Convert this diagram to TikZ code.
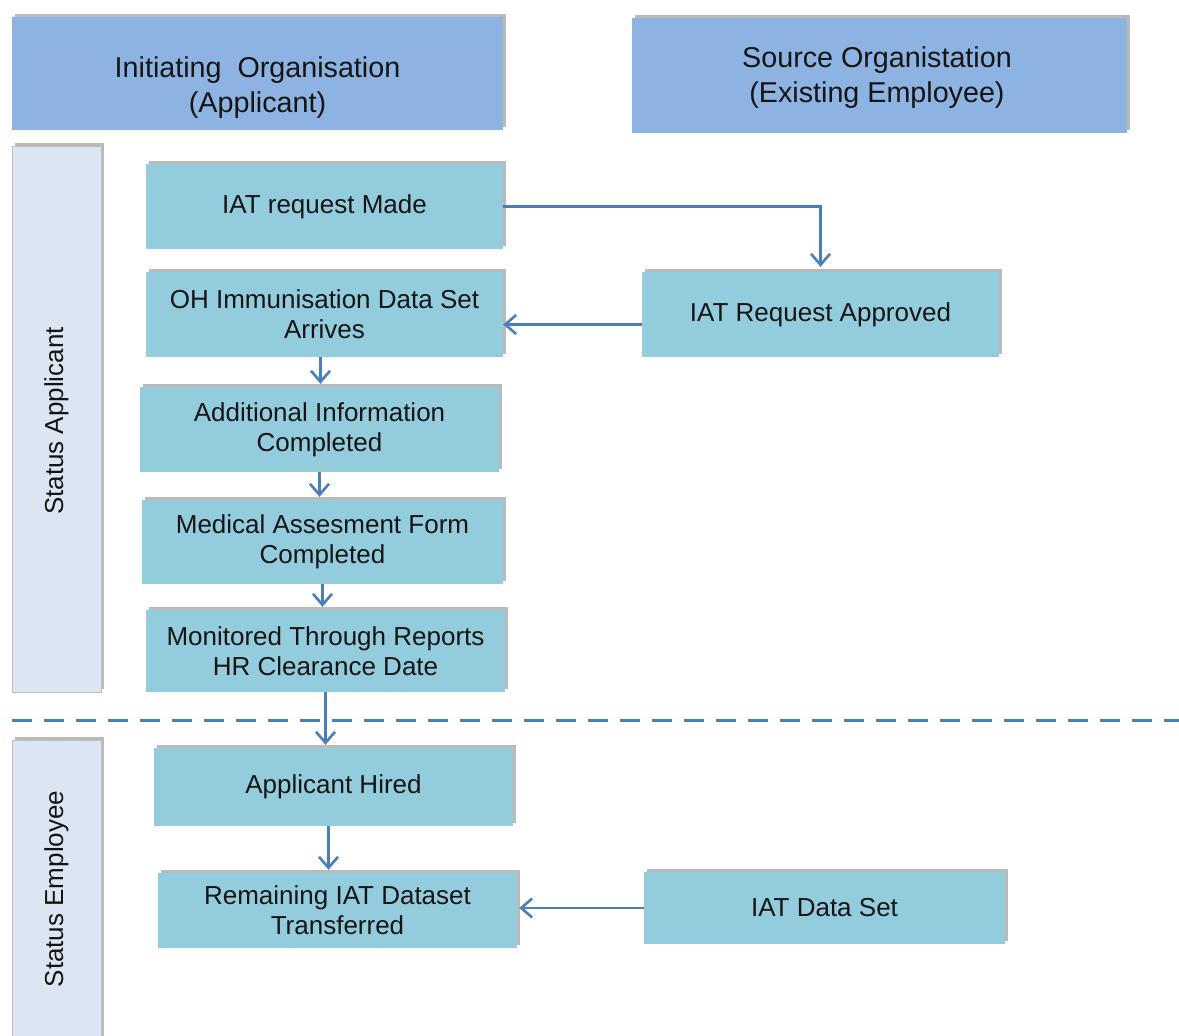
\documentclass[tikz,border=0pt]{standalone}
\usepackage{fontspec}
\setmainfont{Liberation Sans}
\usetikzlibrary{arrows.meta,shadows,calc}
\definecolor{hdrc}{HTML}{8DB3E2}
\definecolor{lanec}{HTML}{DCE6F2}
\definecolor{boxc}{HTML}{93CDDD}
\definecolor{arrc}{HTML}{4A7EBB}
\definecolor{txtc}{HTML}{141414}
\tikzset{
  shd/.style={drop shadow={shadow xshift=3pt,shadow yshift=3pt,opacity=0.45,fill=black!60}},
  hdr/.style={rectangle,fill=hdrc,shd,inner sep=0pt,align=center,text=txtc,
    font=\fontsize{28.7}{35}\selectfont},
  hdrtext/.style={text=txtc,font=\fontsize{28.7}{35}\selectfont,align=center},
  lane/.style={rectangle,fill=lanec,shd,inner sep=0pt,draw=black!25,line width=0.8pt},
  stepbox/.style={rectangle,fill=boxc,shd,inner sep=0pt,align=center,text=txtc,
    font=\fontsize{26}{30}\selectfont},
  arr/.style={draw=arrc,line width=2.6pt,-{Straight Barb[length=11pt,width=19pt]}},
  lanetext/.style={rotate=90,text=txtc,font=\fontsize{26}{30}\selectfont}
}
\begin{document}
\begin{tikzpicture}[x=1pt,y=-1pt]
\useasboundingbox (0,0) rectangle (1179,1036);
% headers
\node[hdr,minimum width=491pt,minimum height=113pt] (h1) at (257.5,73.5) {};
\node[hdrtext] (h1t) at (257.5,88) {Initiating~\ Organisation\\(Applicant)};
\node[hdr,minimum width=495pt,minimum height=115pt] (h2) at (879.5,75.5) {};
\node[hdrtext] (h2t) at (877,78) {Source Organistation\\(Existing Employee)};
% lanes
\node[lane,minimum width=89pt,minimum height=546pt] (l1) at (56.5,419) {};
\node[lanetext] (l1t) at (56.5,421) {Status Applicant};
\node[lane,minimum width=89pt,minimum height=310pt] (l2) at (56.5,895) {};
\node[lanetext] (l2t) at (56.5,889) {Status Employee};
% divider
\coordinate (dl) at (12,720);
\coordinate (dr) at (1179,720);
\draw[arrc,line width=3pt,dash pattern=on 20pt off 12pt] (dl) -- (dr);
% steps
\node[stepbox,minimum width=357pt,minimum height=85pt] (b1) at (324.5,206.5) {IAT request Made};
\node[stepbox,minimum width=357pt,minimum height=85pt] (b2) at (324.5,314.5) {OH Immunisation Data Set\\Arrives};
\node[stepbox,minimum width=359pt,minimum height=85pt] (b3) at (319.5,429.5) {Additional Information\\Completed};
\node[stepbox,minimum width=361pt,minimum height=84pt] (b4) at (322.5,542) {Medical Assesment Form\\Completed};
\node[stepbox,minimum width=359pt,minimum height=82pt] (b5) at (325.5,651) {Monitored Through Reports\\HR Clearance Date};
\node[stepbox,minimum width=359pt,minimum height=78pt] (b6) at (333.5,787) {Applicant Hired};
\node[stepbox,minimum width=359pt,minimum height=75pt] (b7) at (337.5,910.5) {Remaining IAT Dataset\\Transferred};
\node[stepbox,minimum width=357pt,minimum height=85pt] (b8) at (820.5,314.5) {IAT Request Approved};
\node[stepbox,minimum width=361pt,minimum height=72pt] (b9) at (824.5,908) {IAT Data Set};
% connectors
\draw[arr,shorten >=5pt] (b1.east) -| (b8.north);
\draw[arr] ([yshift=-10pt]b8.west) -- ([yshift=-10pt]b8.west -| b2.east);
\draw[arr,shorten >=3pt] ([xshift=-4pt]b2.south) -- ([xshift=-4pt]b2.south |- b3.north);
\draw[arr,shorten >=3pt] (b3.south) -- (b3.south |- b4.north);
\draw[arr,shorten >=3pt] (b4.south) -- (b4.south |- b5.north);
\draw[arr,shorten >=3pt] (b5.south) -- (b5.south |- b6.north);
\draw[arr,shorten >=3pt] ([xshift=-5pt]b6.south) -- ([xshift=-5pt]b6.south |- b7.north);
\draw[arr,shorten >=2pt] (b9.west) -- (b9.west -| b7.east);
\end{tikzpicture}
\end{document}
